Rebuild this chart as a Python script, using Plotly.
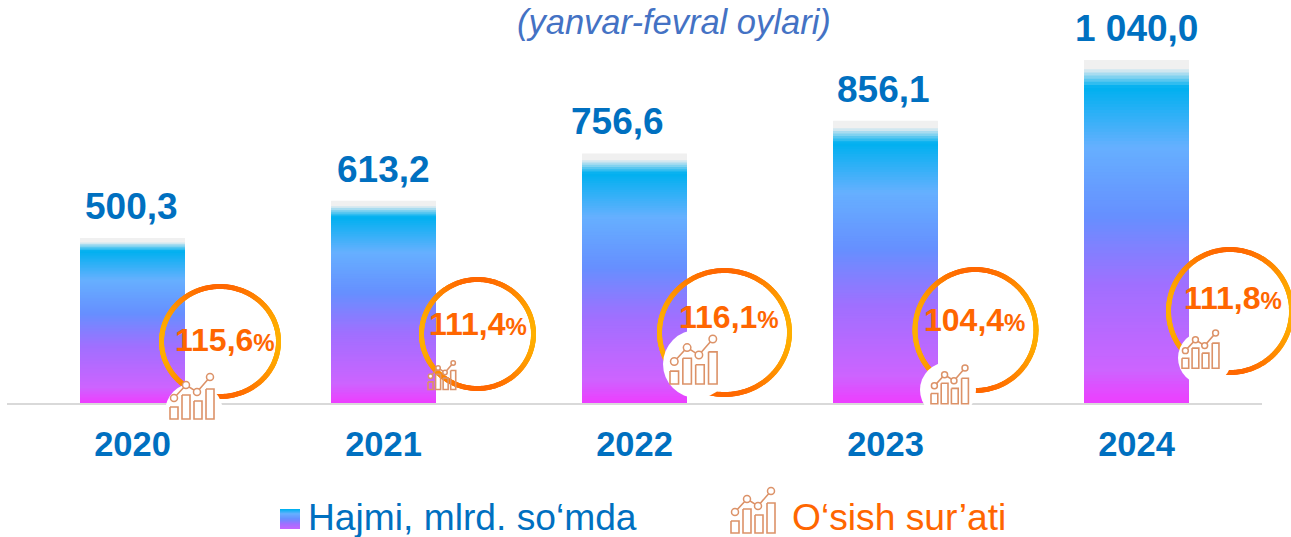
import numpy as np
import plotly.graph_objects as go

# ---------- data ----------
years = ["2020", "2021", "2022", "2023", "2024"]
volume = [500.3, 613.2, 756.6, 856.1, 1040.0]
volume_labels = ["500,3", "613,2", "756,6", "856,1", "1 040,0"]
growth_labels = ["115,6", "111,4", "116,1", "104,4", "111,8"]
subtitle = "(yanvar-fevral oylari)"
legend_volume = "Hajmi, mlrd. so‘mda"
legend_growth = "O‘sish sur’ati"

# ---------- style ----------
W, H = 1291, 537
FONT = "Liberation Sans"
BLUE = "#0070c0"
ORANGE = "#ff6600"
BASE_PX = 403
PX_PER_UNIT = 343 / 1040
STOPS = [(0.0, (240, 240, 240)), (0.02, (240, 240, 240)), (0.075, (0, 176, 240)),
         (0.25, (102, 176, 255)), (0.45, (102, 144, 255)), (0.65, (160, 112, 255)),
         (0.9, (205, 100, 255)), (1.0, (240, 60, 255))]


def grad(t):
    xs = [s[0] for s in STOPS]
    return "rgb(%d,%d,%d)" % tuple(np.interp(t, xs, [s[1][i] for s in STOPS]) for i in range(3))


fig = go.Figure()
fig.add_trace(go.Bar(x=years, y=volume, name=legend_volume, marker=dict(color=grad(0), line_width=0)))
LEVELS = 110
for k in range(1, LEVELS):
    f = 1 - k / LEVELS
    fig.add_trace(go.Bar(x=years, y=[v * f for v in volume], marker=dict(color=grad(k / LEVELS), line_width=0),
                         hoverinfo="skip"))

# ---------- decoration on a pixel overlay ----------
rings = [(220, 341.5, 58.5, 55), (477.5, 334, 56, 54.5), (724.5, 332.5, 65, 62), (975.5, 330, 60.5, 60.5),
         (1230, 311, 61.5, 61.5)]
blobs = [(194, 412, 29), (697, 364, 34), (948, 390, 28), (1205, 358, 27)]
icons = [(170, 377, 1.0), (428, 363, 0.63), (670, 339, 1.07), (931, 368, 0.85), (1182, 333, 0.84), (731, 491, 1.0)]
growth_pos = [(225, 340), (478, 324), (728.5, 317), (974, 320), (1233, 298)]
label_dx = [-1, 0, -17, -2, 0]
ICON_BARS = [(0, 8, 30, 42), (12, 20, 18, 42), (24, 32, 24, 42), (36, 44, 12, 42)]
ICON_PTS = [(4, 21), (16, 8), (27, 15), (40, 0)]

rx, ry, rc = [], [], []
for cx, cy, ra, rb in rings:
    for a in np.linspace(0, 2 * np.pi, 420):
        rx.append(cx + ra * np.cos(a))
        ry.append(cy + rb * np.sin(a))
        t = abs(np.cos(a)) ** 2
        rc.append("rgb(255,%d,%d)" % (104 + 72 * t, 0))
fig.add_trace(go.Scatter(x=rx, y=ry, xaxis="x2", yaxis="y2", mode="markers", hoverinfo="skip",
                         marker=dict(size=5, color=rc, line_width=0, opacity=1)))
fig.add_trace(go.Scatter(x=[b[0] for b in blobs], y=[b[1] for b in blobs], xaxis="x2", yaxis="y2", mode="markers",
                         hoverinfo="skip",
                         marker=dict(size=[2 * b[2] for b in blobs], color="white", line_width=0, opacity=1)))

ICOL = "#dc9268"
lx, ly, px, py, ps = [], [], [], [], []
for x0, y0, s in icons:
    for a, b, t, u in ICON_BARS:
        lx += [x0 + a * s, x0 + b * s, x0 + b * s, x0 + a * s, x0 + a * s, None]
        ly += [y0 + t * s, y0 + t * s, y0 + u * s, y0 + u * s, y0 + t * s, None]
    lx += [x0 + p[0] * s for p in ICON_PTS] + [None]
    ly += [y0 + p[1] * s for p in ICON_PTS] + [None]
    for p in ICON_PTS:
        px.append(x0 + p[0] * s)
        py.append(y0 + p[1] * s)
        ps.append(7 * s)
fig.add_trace(go.Scatter(x=lx, y=ly, xaxis="x2", yaxis="y2", mode="lines", hoverinfo="skip",
                         line=dict(color=ICOL, width=1.6)))
fig.add_trace(go.Scatter(x=px, y=py, xaxis="x2", yaxis="y2", mode="markers", hoverinfo="skip",
                         marker=dict(size=ps, color="white", opacity=1, line=dict(color=ICOL, width=1.5))))

# ---------- text ----------
ann = []
for i, (v, lab, dx) in enumerate(zip(volume, volume_labels, label_dx)):
    ann.append(dict(x=i, y=v, xref="x", yref="y", text="<b>%s</b>" % lab, showarrow=False, yanchor="bottom",
                    yshift=9, xshift=dx, font=dict(family=FONT, size=37, color=BLUE)))
for (x, y), lab in zip(growth_pos, growth_labels):
    ann.append(dict(x=x, y=y, xref="x2", yref="y2", text='<b>%s<span style="font-size:24px">%%</span></b>' % lab,
                    showarrow=False, font=dict(family=FONT, size=32, color=ORANGE)))
ann.append(dict(x=674, y=22, xref="x2", yref="y2", text="<i>%s</i>" % subtitle, showarrow=False,
                font=dict(family=FONT, size=34.5, color="#4472c4")))
ann.append(dict(x=306, y=517, xref="x2", yref="y2", text=legend_volume, showarrow=False, xanchor="left",
                font=dict(family=FONT, size=37.2, color=BLUE)))
ann.append(dict(x=790, y=517, xref="x2", yref="y2", text=legend_growth, showarrow=False, xanchor="left",
                font=dict(family=FONT, size=37.2, color=ORANGE)))

# legend swatch
shapes = []
SW = 20
for k in range(SW):
    shapes.append(dict(type="rect", xref="x2", yref="y2", x0=280, x1=300, y0=509 + k, y1=510 + k,
                       fillcolor=grad(0.08 + 0.8 * k / SW), line_width=0))

fig.update_layout(
    width=W, height=H, autosize=False, margin=dict(l=0, r=0, t=0, b=0), showlegend=False,
    paper_bgcolor="white", plot_bgcolor="rgba(0,0,0,0)", barmode="overlay", bargap=0.582,
    annotations=ann, shapes=shapes,
    xaxis=dict(type="category", domain=[7 / W, 1262 / W], range=[-0.5, 4.5], showline=True, linecolor="#d9d9d9",
               linewidth=2, showgrid=False, zeroline=False, ticks="", ticklabelstandoff=10,
               tickfont=dict(family=FONT, size=34.5, color=BLUE, weight="bold"), anchor="y"),
    yaxis=dict(domain=[1 - BASE_PX / H, 1], range=[0, BASE_PX / PX_PER_UNIT], visible=False, anchor="x"),
    xaxis2=dict(domain=[0, 1], range=[0, W], visible=False, anchor="y2"),
    yaxis2=dict(domain=[0, 1], range=[H, 0], visible=False, anchor="x2"),
)
fig.write_html("out.html", config={"displayModeBar": False},
               post_script="document.body.style.margin='0';document.body.style.overflow='hidden';")
